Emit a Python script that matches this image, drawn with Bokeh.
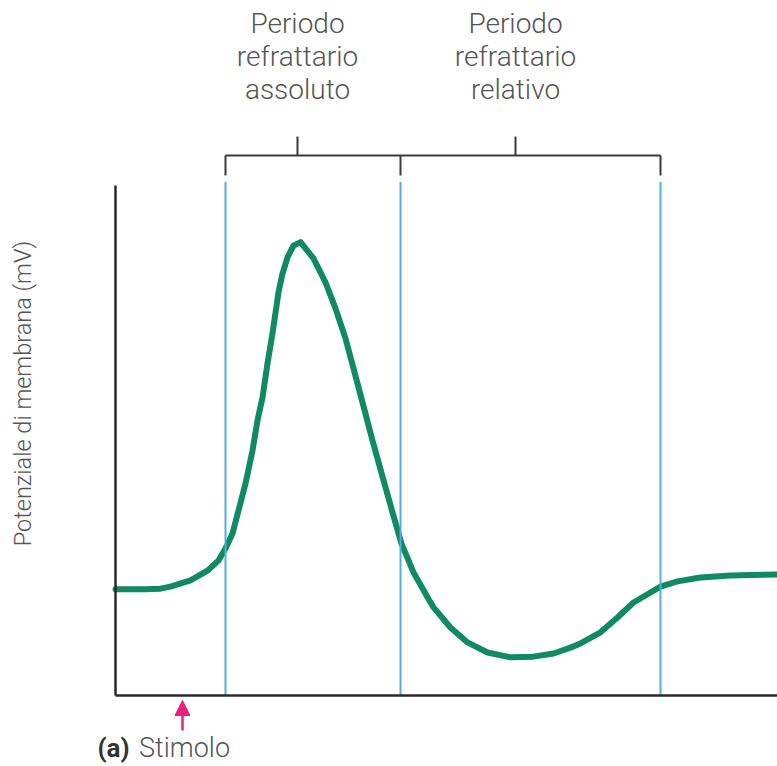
import math
from bokeh.plotting import figure
from bokeh.models import Range1d, Label, Arrow, NormalHead, FixedTicker
from bokeh.embed import file_html
from bokeh.resources import INLINE

# ---- data ----
time_ms = [0.00, 0.30, 0.45, 0.55, 0.75, 0.92, 1.03, 1.10, 1.17, 1.23,
           1.30, 1.37, 1.42, 1.47, 1.52, 1.57, 1.63, 1.67, 1.72, 1.78,
           1.85, 1.98, 2.10, 2.20, 2.30, 2.38, 2.47, 2.57, 2.67, 2.77,
           2.86, 2.98, 3.12, 3.18, 3.35, 3.52, 3.72, 3.95, 4.18, 4.38,
           4.55, 4.65, 4.85, 5.02, 5.18, 5.35, 5.45, 5.62, 5.85, 6.15, 6.62]
potential_mv = [-69.4, -69.4, -69.2, -68.6, -66.8, -64.0, -61.1, -57.6, -53.3, -46.7,
                -38.9, -29.4, -20.7, -14.1, -4.3, 4.4, 16.2, 21.6, 26.3, 29.7,
                30.7, 26.0, 19.1, 11.6, 2.9, -5.7, -15.5, -26.5, -36.9, -47.2,
                -56.2, -64.5, -71.7, -74.6, -80.4, -84.7, -87.6, -89.0, -88.8, -87.9,
                -86.2, -85.0, -81.8, -77.5, -73.2, -70.3, -68.6, -67.1, -66.0, -65.4, -65.1]
period_bounds = [1.10, 2.85, 5.45]      # start abs. / end abs. = start rel. / end rel.
period_centers = [1.82, 4.00]
period_labels = [["Periodo", "refrattario", "assoluto"],
                 ["Periodo", "refrattario", "relativo"]]
stimulus_t = 0.67
y_title = "Potenziale di membrana (mV)"
axis_bottom_mv, axis_top_mv = -100, 47.0
axis_end_t = 6.62

# ---- styles ----
GREEN = "#108a60"
BLUE = "#4fb0de"
PINK = "#e8207a"
TEXT = "#555555"
LIGHT = "Roboto Light, Roboto"

p = figure(width=777, height=766, output_backend="svg", toolbar_location=None,
           x_range=Range1d(-1.15, 6.62), y_range=Range1d(-120.47, 100.35),
           min_border=0)
# a layout range in page pixels (top = 0) for decorations outside the data area
p.extra_y_ranges = {"px": Range1d(start=766, end=0)}
p.outline_line_color = None
p.grid.visible = False
p.background_fill_color = "white"

p.yaxis.fixed_location = 0
p.xaxis.fixed_location = axis_bottom_mv
p.yaxis.bounds = (axis_bottom_mv, axis_top_mv)
p.xaxis.bounds = (0, axis_end_t)
for ax in (p.xaxis[0], p.yaxis[0]):
    ax.ticker = FixedTicker(ticks=[])
    ax.major_tick_line_color = None
    ax.minor_tick_line_color = None
    ax.major_label_text_font_size = "0px"
    ax.axis_line_color = "#2a2a2a"
    ax.axis_line_width = 2.5

# action potential curve
p.line(time_ms, potential_mv, line_color=GREEN, line_width=6, line_join="round", line_cap="round")

# period boundaries (blue lines)
p.segment(x0=period_bounds, x1=period_bounds,
          y0=[axis_bottom_mv] * len(period_bounds), y1=[axis_top_mv + 1] * len(period_bounds),
          line_color=BLUE, line_width=2)

# bracket above the plot
BR_Y, DROP_Y, TICK_Y = 155, 175, 136
bx0 = [period_bounds[0]] + period_bounds + period_centers
bx1 = [period_bounds[-1]] + period_bounds + period_centers
by0 = [BR_Y] * len(bx0)
by1 = [BR_Y] + [DROP_Y] * len(period_bounds) + [TICK_Y] * len(period_centers)
p.segment(x0=bx0, y0=by0, x1=bx1, y1=by1, line_color="#3a3a3a", line_width=2,
          y_range_name="px")

# period labels
line_ys = [23, 56, 89]
for cx, lines in zip(period_centers, period_labels):
    for ly, t in zip(line_ys, lines):
        p.add_layout(Label(x=cx, y=ly, y_range_name="px", text=t, text_align="center",
                           text_baseline="alphabetic", text_font=LIGHT, text_font_size="28px",
                           text_color=TEXT))

# y-axis title
p.add_layout(Label(x=-0.93, y=393, y_range_name="px", text=y_title, angle=math.pi / 2,
                   text_align="center", text_baseline="middle", text_font=LIGHT,
                   text_font_size="23.5px", text_color=TEXT))

# stimulus arrow and label
p.add_layout(Arrow(x_start=stimulus_t, y_start=730, x_end=stimulus_t, y_end=700, y_range_name="px",
                   line_color=PINK, line_width=2.5,
                   end=NormalHead(size=15, fill_color=PINK, line_color=PINK)))
p.add_layout(Label(x=-0.18, y=747, y_range_name="px", text="(a)", text_font="Roboto",
                   text_font_style="bold", text_font_size="26px", text_color="#333333",
                   text_baseline="alphabetic"))
p.add_layout(Label(x=0.235, y=747, y_range_name="px", text="Stimolo", text_font=LIGHT,
                   text_font_size="27px", text_color=TEXT, text_baseline="alphabetic"))

open("out.html", "w").write(file_html(p, INLINE))
